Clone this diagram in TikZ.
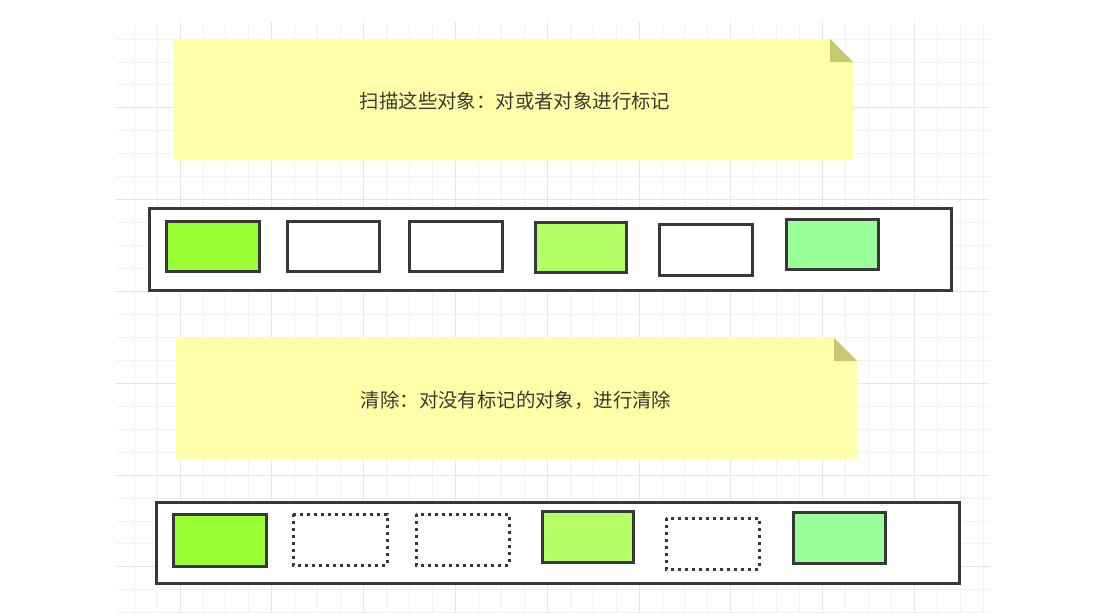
\documentclass[tikz,border=0pt]{standalone}
\usepackage{fontspec}
\newfontfamily\cjk{Noto Sans CJK SC}
\definecolor{gridminor}{HTML}{F2F2F2}
\definecolor{gridmajor}{HTML}{E6E6E6}
\definecolor{notefill}{HTML}{FFFFAA}
\definecolor{notefold}{HTML}{C8C872}
\definecolor{edge}{HTML}{383838}
\definecolor{txt}{HTML}{3A3A30}
\definecolor{gA}{HTML}{99FF33}
\definecolor{gB}{HTML}{B3FF66}
\definecolor{gC}{HTML}{99FF99}
\tikzset{
  notebox/.style={fill=notefill, draw=none},
  foldtri/.style={fill=notefold, draw=none},
  container/.style={draw=edge, line width=3pt, fill=white},
  obj/.style={draw=edge, line width=3pt},
  freed/.style={draw=edge, line width=3pt, dash pattern=on 3pt off 4pt},
  label/.style={font=\cjk\fontsize{19.4}{22}\selectfont, text=txt}
}
\begin{document}
\begin{tikzpicture}[x=1pt,y=-1pt]
\useasboundingbox (0,0) rectangle (1118,613);
\fill[white] (0,0) rectangle (1118,613);
% grid
\begin{scope}
\clip (116,22) rectangle (990,613);
\foreach \i in {0,...,37} {
  \draw[gridminor, line width=0.9pt] ({134.1+22.95*\i},22) -- ({134.1+22.95*\i},613);
}
\foreach \i in {0,...,25} {
  \draw[gridminor, line width=0.9pt] (116,{39+22.95*\i}) -- (990,{39+22.95*\i});
}
\foreach \i in {0,...,9} {
  \draw[gridmajor, line width=1pt] ({180+91.8*\i},22) -- ({180+91.8*\i},613);
}
\foreach \i in {0,...,6} {
  \draw[gridmajor, line width=1pt] (116,{16+91.8*\i}) -- (990,{16+91.8*\i});
}
\end{scope}
% note 1
\fill[notebox] (174,39) -- (830,39) -- (853,62) -- (853,160) -- (174,160) -- cycle;
\fill[foldtri] (830,39) -- (853,62) -- (830,62) -- cycle;
\node[label] (t1) at (515,101) {扫描这些对象：对或者对象进行标记};
% note 2
\fill[notebox] (176,338) -- (834,338) -- (857,361) -- (857,459) -- (176,459) -- cycle;
\fill[foldtri] (834,338) -- (857,361) -- (834,361) -- cycle;
\node[label] (t2) at (516,400) {清除：对没有标记的对象，进行清除};
% container 1
\draw[container] (149,208) rectangle (951,290);
\draw[obj, fill=gA] (166,221) rectangle (259,271);
\draw[obj, fill=white] (287,221) rectangle (379,271);
\draw[obj, fill=white] (409,221) rectangle (502,271);
\draw[obj, fill=gB] (535,222) rectangle (626,272);
\draw[obj, fill=white] (659,224) rectangle (752,275);
\draw[obj, fill=gC] (786,219) rectangle (878,269);
% container 2
\draw[container] (156,502) rectangle (959,583);
\draw[obj, fill=gA] (173,514) rectangle (266,566);
\draw[freed] (293,514) rectangle (387,565);
\draw[freed] (416,514) rectangle (509,565);
\draw[obj, fill=gB] (542,511) rectangle (633,562);
\draw[freed] (666,518) rectangle (759,569);
\draw[obj, fill=gC] (793,512) rectangle (885,563);
\end{tikzpicture}
\end{document}
